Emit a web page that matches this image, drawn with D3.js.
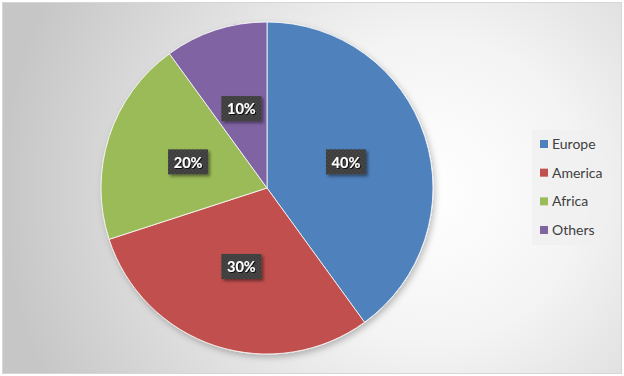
<!DOCTYPE html>
<meta charset="utf-8">
<title>Pie chart</title>
<style>
    body { margin: 0; background: #fff; }
    svg { display: block; }
    .legend text { font-family: Lato, "Open Sans", sans-serif; font-size: 14px; fill: #404040; }
    .lbl text { font-family: Lato, "Open Sans", sans-serif; font-size: 14.5px; font-weight: bold; fill: #fff; }
</style>
<body>
<div id="chart"></div>
<script src="https://cdnjs.cloudflare.com/ajax/libs/d3/7.8.5/d3.min.js"></script>
<script>
    // chart data
    var regions = ["Europe", "America", "Africa", "Others"];
    var shares = [40, 30, 20, 10];
    var colors = ["#4f81bd", "#c0504d", "#9bbb59", "#8064a2"];

    var width = 624, height = 376;
    var cx = 267, cy = 188, r = 166;

    var svg = d3.select("#chart").append("svg")
        .attr("width", width)
        .attr("height", height);

    var defs = svg.append("defs");

    // background radial gradient
    var grad = defs.append("radialGradient")
        .attr("id", "bg")
        .attr("gradientUnits", "userSpaceOnUse")
        .attr("cx", 430).attr("cy", 190).attr("r", 430);
    grad.append("stop").attr("offset", "0%").attr("stop-color", "#ffffff");
    grad.append("stop").attr("offset", "35%").attr("stop-color", "#f4f4f4");
    grad.append("stop").attr("offset", "100%").attr("stop-color", "#c6c6c6");

    var shadow = defs.append("filter").attr("id", "shadow")
        .attr("x", "-20%").attr("y", "-20%").attr("width", "140%").attr("height", "140%");
    shadow.append("feDropShadow")
        .attr("dx", 2).attr("dy", 3).attr("stdDeviation", 3)
        .attr("flood-color", "#000").attr("flood-opacity", 0.25);

    var boxShadow = defs.append("filter").attr("id", "boxshadow")
        .attr("x", "-30%").attr("y", "-30%").attr("width", "160%").attr("height", "160%");
    boxShadow.append("feDropShadow")
        .attr("dx", 2).attr("dy", 2).attr("stdDeviation", 1.5)
        .attr("flood-color", "#000").attr("flood-opacity", 0.45);

    var txtShadow = defs.append("filter").attr("id", "txtshadow")
        .attr("x", "-20%").attr("y", "-20%").attr("width", "140%").attr("height", "140%");
    txtShadow.append("feDropShadow")
        .attr("dx", 1).attr("dy", 1).attr("stdDeviation", 0.5)
        .attr("flood-color", "#000").attr("flood-opacity", 0.8);

    // checker texture for label boxes
    var pat = defs.append("pattern").attr("id", "dots")
        .attr("width", 4).attr("height", 4).attr("patternUnits", "userSpaceOnUse");
    pat.append("rect").attr("width", 4).attr("height", 4).attr("fill", "#3c3c3c");
    pat.append("rect").attr("width", 2).attr("height", 2).attr("fill", "#474747");
    pat.append("rect").attr("x", 2).attr("y", 2).attr("width", 2).attr("height", 2).attr("fill", "#474747");

    svg.append("rect")
        .attr("x", 2.5).attr("y", 2.5)
        .attr("width", width - 5).attr("height", height - 5)
        .attr("fill", "url(#bg)")
        .attr("stroke", "#d6d6d6");

    var data = regions.map(function (name, i) {
        return { name: name, value: shares[i], color: colors[i] };
    });

    var pie = d3.pie().sort(null).value(function (d) { return d.value; });
    var arc = d3.arc().innerRadius(0).outerRadius(r);
    var arcs = pie(data);

    var g = svg.append("g").attr("transform", "translate(" + cx + "," + cy + ")");

    g.append("g").attr("filter", "url(#shadow)")
        .selectAll("path")
        .data(arcs)
        .enter()
        .append("path")
        .attr("d", arc)
        .attr("fill", function (d) { return d.data.color; })
        .attr("stroke", "#fff")
        .attr("stroke-width", 0.8);

    // data labels
    var lbl = g.selectAll("g.lbl")
        .data(arcs)
        .enter()
        .append("g")
        .attr("class", "lbl")
        .attr("transform", function (d) {
            var c = arc.centroid(d);
            return "translate(" + c[0] + "," + c[1] + ")";
        });

    lbl.append("rect")
        .attr("x", -20).attr("y", -13)
        .attr("width", 40).attr("height", 25)
        .attr("fill", "url(#dots)")
        .attr("filter", "url(#boxshadow)");

    lbl.append("text")
        .attr("text-anchor", "middle")
        .attr("dy", "0.36em")
        .attr("filter", "url(#txtshadow)")
        .text(function (d) { return d.data.value + "%"; });

    // legend
    var legend = svg.append("g").attr("class", "legend");
    legend.append("rect")
        .attr("x", 532).attr("y", 130)
        .attr("width", 78).attr("height", 115)
        .attr("fill", "#f0f0f0").attr("opacity", 0.7);

    var ly = d3.scalePoint().domain(regions).range([144, 230]);

    var item = legend.selectAll("g.item")
        .data(data)
        .enter()
        .append("g")
        .attr("class", "item")
        .attr("transform", function (d) { return "translate(540," + ly(d.name) + ")"; });

    item.append("rect")
        .attr("x", 0).attr("y", -4)
        .attr("width", 8).attr("height", 8)
        .attr("fill", function (d) { return d.color; });

    item.append("text")
        .attr("x", 12)
        .attr("dy", "0.35em")
        .text(function (d) { return d.name; });
</script>
</body>
